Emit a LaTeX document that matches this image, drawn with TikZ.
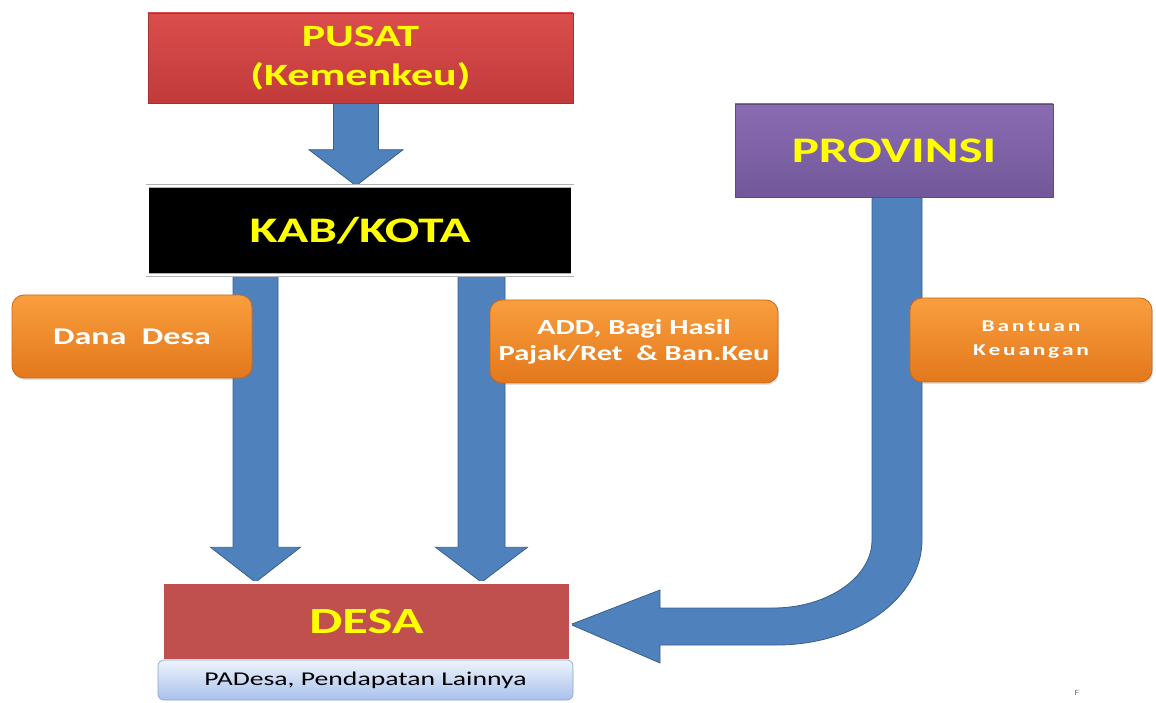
\documentclass[tikz,border=0pt]{standalone}
\usepackage{fontspec}
\setmainfont{Carlito}[FakeStretch=1.42]
\usetikzlibrary{calc,backgrounds,shadows}
\definecolor{txtyellow}{HTML}{FFFF00}
\definecolor{arrowfill}{HTML}{4F81BD}
\definecolor{arrowdraw}{HTML}{3A5F8C}
\definecolor{redtop}{HTML}{DB4D4D}
\definecolor{redbot}{HTML}{C13A3A}
\definecolor{reddraw}{HTML}{A53030}
\definecolor{desared}{HTML}{C0504D}
\definecolor{purtop}{HTML}{8A6BB2}
\definecolor{purbot}{HTML}{72589A}
\definecolor{purdraw}{HTML}{5E4A7E}
\definecolor{orgtop}{HTML}{F99E3E}
\definecolor{orgbot}{HTML}{E3781C}
\definecolor{orgdraw}{HTML}{C9691A}
\definecolor{bluetop}{HTML}{EEF3FC}
\definecolor{bluebot}{HTML}{A8C2EC}
\definecolor{bluedraw}{HTML}{8CA3C6}
\tikzset{
  mainbox/.style={rectangle, inner sep=0pt, align=center, text=txtyellow},
  lblbox/.style={rectangle, rounded corners=12pt, inner sep=0pt, align=center,
    text=white, top color=orgtop, bottom color=orgbot,
    draw=orgdraw, line width=0.8pt,
    drop shadow={opacity=0.25, shadow xshift=1pt, shadow yshift=-2pt}},
  blockarrow/.style={fill=arrowfill, draw=arrowdraw, line width=0.8pt, line join=miter},
}
% #1 from anchor, #2 to anchor, #3 x centre, #4 half shaft, #5 half head, #6 head length
\newcommand\downblock[6]{%
  \filldraw[blockarrow] let \p1=(#1), \p2=(#2) in
    ({(#3-#4)*1pt},\y1) -- ({(#3-#4)*1pt},{\y2+#6pt}) -- ({(#3-#5)*1pt},{\y2+#6pt})
    -- ({#3*1pt},\y2) -- ({(#3+#5)*1pt},{\y2+#6pt}) -- ({(#3+#4)*1pt},{\y2+#6pt})
    -- ({(#3+#4)*1pt},\y1) -- cycle;}
\begin{document}
\begin{tikzpicture}[x=1pt,y=1pt]
\useasboundingbox (0,0) rectangle (1156,702);
% main boxes
\node[mainbox, minimum width=425pt, minimum height=90pt, top color=redtop, bottom color=redbot,
  draw=reddraw, line width=0.6pt, font={\bfseries\fontsize{31}{39}\selectfont}] (pusat) at (360.5,644)
  {\raisebox{-3pt}{PUSAT}\\\raisebox{-3pt}{(Kemenkeu)}};
\node[mainbox, minimum width=425pt, minimum height=89pt, fill=black, draw=gray!60,
  double=white, double distance=2.6pt, line width=0.5pt,
  font={\bfseries\fontsize{36}{40}\selectfont}] (kab) at (360,471.5)
  {KAB/KOTA};
\node[mainbox, minimum width=318pt, minimum height=93pt, top color=purtop, bottom color=purbot,
  draw=purdraw, line width=0.6pt, font={\bfseries\fontsize{36}{40}\selectfont}] (prov) at (894,551.5)
  {PROVINSI};
\node[mainbox, minimum width=408pt, minimum height=78pt, fill=desared, draw=gray!60,
  double=white, double distance=2.6pt, line width=0.5pt,
  font={\bfseries\fontsize{37}{40}\selectfont}] (desa) at (366.5,80.5)
  {\raisebox{-4pt}{DESA}};
\node[rectangle, rounded corners=6pt, minimum width=415pt, minimum height=40pt, inner sep=0pt,
  top color=bluetop, bottom color=bluebot, draw=bluedraw, line width=0.6pt,
  font={\fontsize{19.5}{22}\selectfont}] (padesa) at (365.5,22)
  {PADesa, Pendapatan Lainnya};
% label boxes
\node[lblbox, minimum width=240pt, minimum height=83pt,
  font={\bfseries\fontsize{24}{28}\selectfont}] (dana) at (132,365.5)
  {Dana\ \ Desa};
\node[lblbox, minimum width=288pt, minimum height=83pt,
  font={\bfseries\fontsize{21.5}{26}\selectfont}] (add) at (634,360.5)
  {ADD, Bagi Hasil\\Pajak/Ret \ \& Ban.Keu};
\node[lblbox, minimum width=242pt, minimum height=84pt,
  font={\bfseries\fontsize{16.5}{24}\selectfont}] (bantuan) at (1031,362)
  {\raisebox{-4pt}{B\,a\,n\,t\,u\,a\,n}\\\raisebox{-4pt}{K\,e\,u\,a\,n\,g\,a\,n}};
\node[text=gray, inner sep=0pt, font=\fontsize{8}{9}\selectfont] (f) at (1077,9) {F};
% arrows
\begin{scope}[on background layer]
  \downblock{pusat.south}{kab.north}{356}{22.5}{47}{36}
  \downblock{kab.south}{desa.north}{255.5}{22.5}{45}{35}
  \downblock{kab.south}{desa.north}{481.5}{23.5}{46}{35}
  \filldraw[blockarrow] let \p1=(prov.south), \p2=(desa.east) in
    (872pt,\y1) -- (872,162) .. controls (872,124.6) and (827.5,94) .. (773,94)
    -- (660,94) -- (660,112) -- (\x2,{\y2-3pt}) -- (660,39) -- (660,57) -- (777,57)
    .. controls (856.75,57) and (922,104.25) .. (922,162) -- (922pt,\y1) -- cycle;
\end{scope}
\end{tikzpicture}
\end{document}
